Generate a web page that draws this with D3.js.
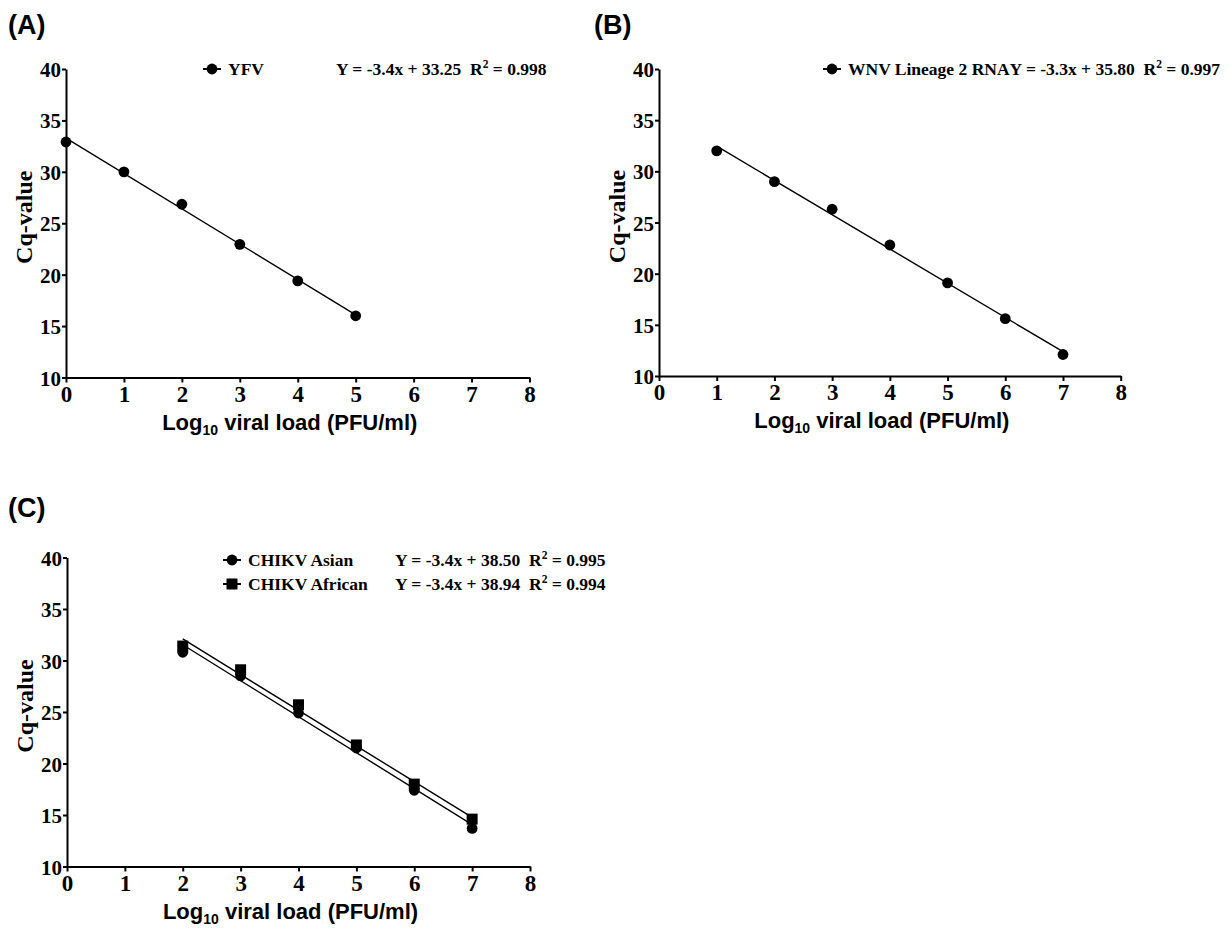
<!DOCTYPE html>
<html>
<head>
<meta charset="utf-8">
<script src="https://cdn.jsdelivr.net/npm/d3@7"></script>
<style>
  html, body { margin: 0; padding: 0; background: #fff; }
  svg { display: block; }
  text { white-space: pre; }
</style>
</head>
<body>
<script>
// ---------- data ----------
const xTicks = [0, 1, 2, 3, 4, 5, 6, 7, 8];
const yTicks = [10, 15, 20, 25, 30, 35, 40];

const yfvLog = [0, 1, 2, 3, 4, 5];
const yfvCq = [32.9, 30.0, 26.85, 22.95, 19.4, 16.0];

const wnvLog = [1, 2, 3, 4, 5, 6, 7];
const wnvCq = [32.0, 29.0, 26.3, 22.8, 19.1, 15.6, 12.1];

const chikvLog = [2, 3, 4, 5, 6, 7];
const chikvAsianCq = [30.8, 28.5, 24.9, 21.5, 17.4, 13.7];
const chikvAfricanCq = [31.4, 29.1, 25.7, 21.8, 18.0, 14.6];

const panelLabels = ["(A)", "(B)", "(C)"];
const seriesNames = ["YFV", "WNV Lineage 2 RNA", "CHIKV Asian", "CHIKV African"];
const equations = [
  ["Y = -3.4x + 33.25  R", "2", " = 0.998"],
  ["Y = -3.3x + 35.80  R", "2", " = 0.997"],
  ["Y = -3.4x + 38.50  R", "2", " = 0.995"],
  ["Y = -3.4x + 38.94  R", "2", " = 0.994"]
];
const yTitle = "Cq-value";

// ---------- drawing ----------
const W = 1229, H = 928;
const svg = d3.select("body").append("svg").attr("width", W).attr("height", H);

const serif = "'Liberation Serif','Times New Roman',serif";
const sans = "'Liberation Sans',Arial,sans-serif";

function fit(xs, ys) {
  const mx = d3.mean(xs), my = d3.mean(ys);
  let sxy = 0, sxx = 0;
  xs.forEach((x, i) => { sxy += (x - mx) * (ys[i] - my); sxx += (x - mx) * (x - mx); });
  const b = sxy / sxx;
  return { b, a: my - b * mx };
}

function drawMarker(g, shape, cx, cy) {
  if (shape === "square") {
    g.append("rect").attr("x", cx - 5.5).attr("y", cy - 5.5).attr("width", 11).attr("height", 11).attr("fill", "#000");
  } else {
    g.append("circle").attr("cx", cx).attr("cy", cy).attr("r", 5.4).attr("fill", "#000");
  }
}

function panel(cfg) {
  const g = svg.append("g");
  const x = d3.scaleLinear().domain([0, 8]).range([cfg.left, cfg.right]);
  const y = d3.scaleLinear().domain([10, 40]).range([cfg.bottom, cfg.top]);

  // panel label
  svg.append("text").attr("x", cfg.labelX).attr("y", cfg.labelY)
    .attr("font-family", sans).attr("font-weight", "bold").attr("font-size", 27)
    .text(cfg.label);

  // axes
  const ax = g.append("g").attr("transform", `translate(0,${cfg.bottom})`)
    .call(d3.axisBottom(x).tickValues(xTicks).tickFormat(d3.format("d")).tickSize(5).tickSizeOuter(0).tickPadding(3));
  const ay = g.append("g").attr("transform", `translate(${cfg.left},0)`)
    .call(d3.axisLeft(y).tickValues(yTicks).tickFormat(d3.format("d")).tickSize(4).tickSizeOuter(0).tickPadding(1));
  [ax, ay].forEach(a => {
    a.select(".domain").attr("stroke", "#000").attr("stroke-width", 2);
    a.selectAll(".tick line").attr("stroke", "#000").attr("stroke-width", 2);
    a.selectAll(".tick text").attr("fill", "#000").attr("font-family", serif).attr("font-weight", "bold");
  });
  ax.selectAll(".tick text").attr("font-size", 23);
  ay.selectAll(".tick text").attr("font-size", 21).attr("dy", "0.36em");

  // axis titles
  svg.append("text")
    .attr("transform", `translate(${cfg.left - 34},${(cfg.top + cfg.bottom) / 2 - 6}) rotate(-90)`)
    .attr("text-anchor", "middle").attr("font-family", serif).attr("font-weight", "bold")
    .attr("font-size", 24).text(yTitle);
  const xt = svg.append("text")
    .attr("x", (cfg.left + cfg.right) / 2 - 8).attr("y", cfg.bottom + 52)
    .attr("text-anchor", "middle").attr("font-family", sans).attr("font-weight", "bold")
    .attr("font-size", 22);
  xt.append("tspan").text("Log");
  xt.append("tspan").attr("font-size", 14).attr("dy", 5).text("10");
  xt.append("tspan").attr("dy", -5).text(" viral load (PFU/ml)");

  // series
  cfg.series.forEach((s, si) => {
    const f = fit(s.xs, s.ys);
    const x0 = d3.min(s.xs), x1 = d3.max(s.xs);
    g.append("line")
      .attr("x1", x(x0)).attr("y1", y(f.a + f.b * x0))
      .attr("x2", x(x1)).attr("y2", y(f.a + f.b * x1))
      .attr("stroke", "#000").attr("stroke-width", 1.4);
    s.xs.forEach((xv, i) => drawMarker(g, s.shape, x(xv), y(s.ys[i])));

    // legend
    const ly = cfg.legendY + si * cfg.legendStep;
    g.append("line").attr("x1", cfg.legendX - 9).attr("x2", cfg.legendX + 9)
      .attr("y1", ly).attr("y2", ly).attr("stroke", "#000").attr("stroke-width", 2);
    drawMarker(g, s.shape, cfg.legendX, ly);
    const nameText = g.append("text").attr("x", cfg.legendX + 16).attr("y", ly + 6)
      .attr("font-family", serif).attr("font-weight", "bold").attr("font-size", 17.5)
      .text(s.name);
    let ex = cfg.eqX;
    if (cfg.eqAfterName) ex = cfg.legendX + 16 + nameText.node().getComputedTextLength();
    const eq = g.append("text").attr("x", ex).attr("y", ly + 6)
      .attr("font-family", serif).attr("font-weight", "bold").attr("font-size", 17.5);
    eq.append("tspan").text(s.eq[0]);
    eq.append("tspan").attr("font-size", 11.5).attr("dy", -7).text(s.eq[1]);
    eq.append("tspan").attr("dy", 7).text(s.eq[2]);
  });
}

panel({
  label: panelLabels[0], labelX: 8, labelY: 34,
  left: 66, right: 529.5, top: 69, bottom: 377.5,
  legendX: 212, legendY: 69, legendStep: 0, eqX: 336,
  series: [{ name: seriesNames[0], xs: yfvLog, ys: yfvCq, shape: "circle", eq: equations[0] }]
});

panel({
  label: panelLabels[1], labelX: 594, labelY: 34,
  left: 659, right: 1120.7, top: 69, bottom: 376,
  legendX: 832, legendY: 69, legendStep: 0, eqAfterName: true,
  series: [{ name: seriesNames[1], xs: wnvLog, ys: wnvCq, shape: "circle", eq: equations[1] }]
});

panel({
  label: panelLabels[2], labelX: 8, labelY: 517,
  left: 67, right: 530, top: 557.5, bottom: 866.5,
  legendX: 232, legendY: 560, legendStep: 24, eqX: 395,
  series: [
    { name: seriesNames[2], xs: chikvLog, ys: chikvAsianCq, shape: "circle", eq: equations[2] },
    { name: seriesNames[3], xs: chikvLog, ys: chikvAfricanCq, shape: "square", eq: equations[3] }
  ]
});
</script>
</body>
</html>
